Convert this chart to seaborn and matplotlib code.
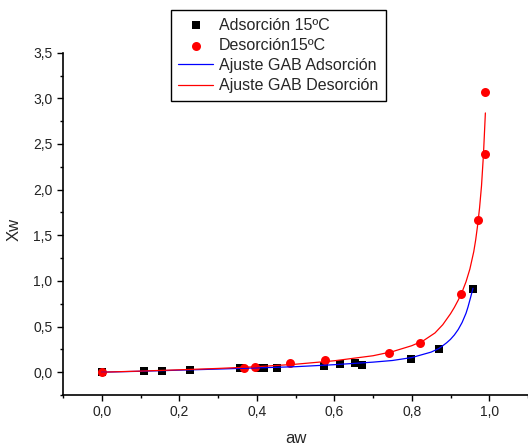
import matplotlib
matplotlib.use('Agg')
import matplotlib.pyplot as plt
from matplotlib.ticker import MultipleLocator, FuncFormatter
import seaborn as sns

# measured points
ads_aw = [0.0, 0.108, 0.155, 0.227, 0.356, 0.405, 0.418, 0.452, 0.574, 0.614, 0.654, 0.671, 0.799, 0.870, 0.958]
ads_xw = [0.0, 0.010, 0.015, 0.020, 0.050, 0.044, 0.050, 0.050, 0.072, 0.092, 0.100, 0.083, 0.146, 0.259, 0.916]

des_aw = [0.0, 0.366, 0.395, 0.487, 0.575, 0.741, 0.822, 0.926, 0.972, 0.988, 0.989]
des_xw = [0.0, 0.050, 0.058, 0.098, 0.131, 0.211, 0.324, 0.860, 1.67, 2.39, 3.07]

# GAB fit curves
fit_ads_aw = [0.0, 0.1, 0.2, 0.3, 0.4, 0.5, 0.6, 0.7, 0.75, 0.8, 0.85, 0.87, 0.88, 0.89, 0.9,
              0.91, 0.92, 0.93, 0.94, 0.945, 0.95, 0.955, 0.958]
fit_ads_xw = [0.0, 0.010, 0.022, 0.034, 0.047, 0.060, 0.082, 0.110, 0.128, 0.160, 0.220, 0.259, 0.290, 0.322, 0.360,
              0.408, 0.468, 0.545, 0.645, 0.712, 0.790, 0.870, 0.920]

fit_des_aw = [0.0, 0.05, 0.1, 0.2, 0.3, 0.4, 0.5, 0.6, 0.7, 0.75, 0.8, 0.83, 0.86, 0.88, 0.9, 0.91, 0.92, 0.93,
              0.94, 0.95, 0.96, 0.965, 0.97, 0.975, 0.98, 0.985, 0.99]
fit_des_xw = [0.0, 0.006, 0.012, 0.026, 0.041, 0.060, 0.087, 0.125, 0.180, 0.225, 0.290, 0.345, 0.430, 0.520, 0.640, 0.710,
              0.790, 0.880, 0.990, 1.130, 1.320, 1.450, 1.610, 1.800, 2.040, 2.380, 2.840]

sns.set_style('white')
plt.rcParams['font.family'] = ['Liberation Sans', 'DejaVu Sans']

fig = plt.figure(figsize=(5.28, 4.47), dpi=100)
ax = fig.add_axes([63 / 528, 52 / 447, 465 / 528, 342.3 / 447])

sns.scatterplot(x=ads_aw, y=ads_xw, marker='s', color='black', s=26, linewidth=0,
                label='Adsorción 15ºC', ax=ax, zorder=3)
sns.scatterplot(x=des_aw, y=des_xw, marker='o', color='#ff0000', s=42, linewidth=0,
                label='Desorción15ºC', ax=ax, zorder=3)
sns.lineplot(x=fit_ads_aw, y=fit_ads_xw, color='#0000ff', lw=0.9, sort=False, estimator=None,
             label='Ajuste GAB Adsorción', ax=ax, zorder=4)
sns.lineplot(x=fit_des_aw, y=fit_des_xw, color='#ff0000', lw=0.9, sort=False, estimator=None,
             label='Ajuste GAB Desorción', ax=ax, zorder=5)

ax.set_xlim(-0.1, 1.1)
ax.set_ylim(-0.25, 3.5)

comma = FuncFormatter(lambda v, p: f'{v:.1f}'.replace('.', ','))
ax.xaxis.set_major_locator(MultipleLocator(0.2))
ax.xaxis.set_minor_locator(MultipleLocator(0.1))
ax.yaxis.set_major_locator(MultipleLocator(0.5))
ax.yaxis.set_minor_locator(MultipleLocator(0.25))
ax.xaxis.set_major_formatter(comma)
ax.yaxis.set_major_formatter(comma)

for side in ['top', 'right']:
    ax.spines[side].set_visible(False)
for side in ['left', 'bottom']:
    ax.spines[side].set_color('black')
    ax.spines[side].set_linewidth(1.2)

ax.tick_params(which='major', direction='out', length=4.5, width=1, color='black',
               labelsize=10, pad=3, left=True, bottom=True, labelcolor='#222222')
ax.tick_params(which='minor', direction='out', length=2.5, width=1, color='black',
               left=True, bottom=True)

ax.set_xlabel('aw', fontsize=12)
ax.set_ylabel('Xw', fontsize=12)
ax.xaxis.set_label_coords(0.5, -0.105)
ax.yaxis.set_label_coords(-0.088, 0.485)

leg = ax.legend(loc='upper center', bbox_to_anchor=(0.527, 0.978), bbox_transform=fig.transFigure,
                fontsize=11.5, frameon=True, fancybox=False, framealpha=1, edgecolor='black',
                handlelength=2.2, handletextpad=0.35, labelspacing=0.33, borderpad=0.48,
                borderaxespad=0)
leg.get_frame().set_linewidth(1.0)

fig.savefig('out.png', dpi=100)
